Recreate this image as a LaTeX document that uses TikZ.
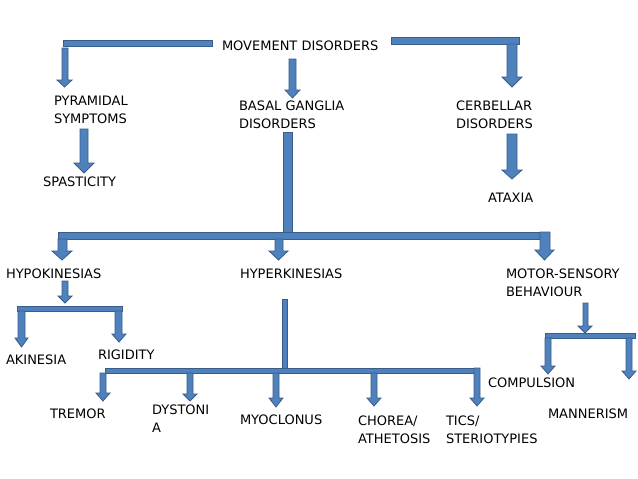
\documentclass[tikz,border=0pt]{standalone}
\usepackage{fontspec}
\setmainfont{DejaVu Sans}
\definecolor{blkfill}{RGB}{79,129,189}
\definecolor{blkline}{RGB}{56,93,138}
\tikzset{
  blk/.style={fill=blkfill,draw=blkline,line width=0.8pt,line join=miter},
  lbl/.style={anchor=base west,inner sep=0pt,outer sep=0pt,align=left,
    font=\fontsize{13}{18}\selectfont,text=black}
}
% shaft left, shaft right, top, head left, head right, head start, tip
\newcommand{\blkarrow}[7]{%
  \filldraw[blk] (#1,#3) -- (#2,#3) -- (#2,#6) -- (#5,#6) -- ({(#4+#5)/2},#7)
    -- (#4,#6) -- (#1,#6) -- cycle;}
\newcommand{\blkbar}[4]{\filldraw[blk] (#1,#2) rectangle (#3,#4);}
\begin{document}
\begin{tikzpicture}[x=1pt,y=-1pt]
\useasboundingbox[fill=white] (0,0) rectangle (638,479);

% ---- text nodes (base = baseline of the last line)
\node[lbl] (mvt)   at (222,50)  {MOVEMENT DISORDERS};
\node[lbl] (pyr)   at (54,123)  {PYRAMIDAL\\SYMPTOMS};
\node[lbl] (bg)    at (239,128) {BASAL GANGLIA\\DISORDERS};
\node[lbl] (cer)   at (456,128) {CERBELLAR\\DISORDERS};
\node[lbl] (spas)  at (43,186)  {SPASTICITY};
\node[lbl] (atax)  at (488,202) {ATAXIA};
\node[lbl] (hypo)  at (6,278)   {HYPOKINESIAS};
\node[lbl] (hyper) at (240,278) {HYPERKINESIAS};
\node[lbl] (msb)   at (506,296) {MOTOR-SENSORY\\BEHAVIOUR};
\node[lbl] (akin)  at (6,364)   {AKINESIA};
\node[lbl] (rig)   at (98,359)  {RIGIDITY};
\node[lbl] (trem)  at (50,418)  {TREMOR};
\node[lbl] (dyst)  at (152,432) {DYSTONI\\A};
\node[lbl] (myo)   at (240,424) {MYOCLONUS};
\node[lbl] (chor)  at (358,443) {CHOREA/\\ATHETOSIS};
\node[lbl] (tics)  at (446,443) {TICS/\\STERIOTYPIES};
\node[lbl] (comp)  at (488,387) {COMPULSION};
\node[lbl] (mann)  at (548,418) {MANNERISM};

% ---- bars
\blkbar{63}{40}{212}{46}
\blkbar{391}{37}{519}{44}
\blkbar{283}{132}{292}{233}
\blkbar{58}{232}{543}{239}
\blkbar{17}{306}{122}{311}
\blkbar{282}{299}{287}{368}
\blkbar{105}{368}{479}{373}
\blkbar{545}{333}{635}{338}

% ---- block arrows
\blkarrow{62}{68}{48}{57}{72}{80}{87}
\blkarrow{289}{296}{59}{285}{300}{90}{98}
\blkarrow{507}{517}{44}{502}{522}{77}{87}
\blkarrow{80}{88}{129}{74}{94}{163}{173}
\blkarrow{507}{517}{134}{502}{522}{170}{179}
\blkarrow{58}{67}{239}{52}{72}{251}{260}
\blkarrow{275}{283}{239}{269}{288}{251}{260}
\blkarrow{540}{550}{232}{535}{554}{250}{260}
\blkarrow{62}{68}{281}{58}{72}{296}{303}
\blkarrow{18}{25}{311}{15}{28}{338}{347}
\blkarrow{115}{122}{311}{112}{126}{334}{342}
\blkarrow{100}{106}{373}{96}{110}{393}{401}
\blkarrow{187}{193}{373}{183}{197}{394}{401}
\blkarrow{273}{279}{373}{269}{283}{398}{407}
\blkarrow{371}{377}{373}{367}{381}{398}{406}
\blkarrow{474}{480}{368}{470}{484}{398}{406}
\blkarrow{583}{588}{303}{578}{592}{326}{333}
\blkarrow{545}{551}{338}{541}{555}{366}{374}
\blkarrow{626}{632}{338}{622}{636}{371}{379}
\end{tikzpicture}
\end{document}
